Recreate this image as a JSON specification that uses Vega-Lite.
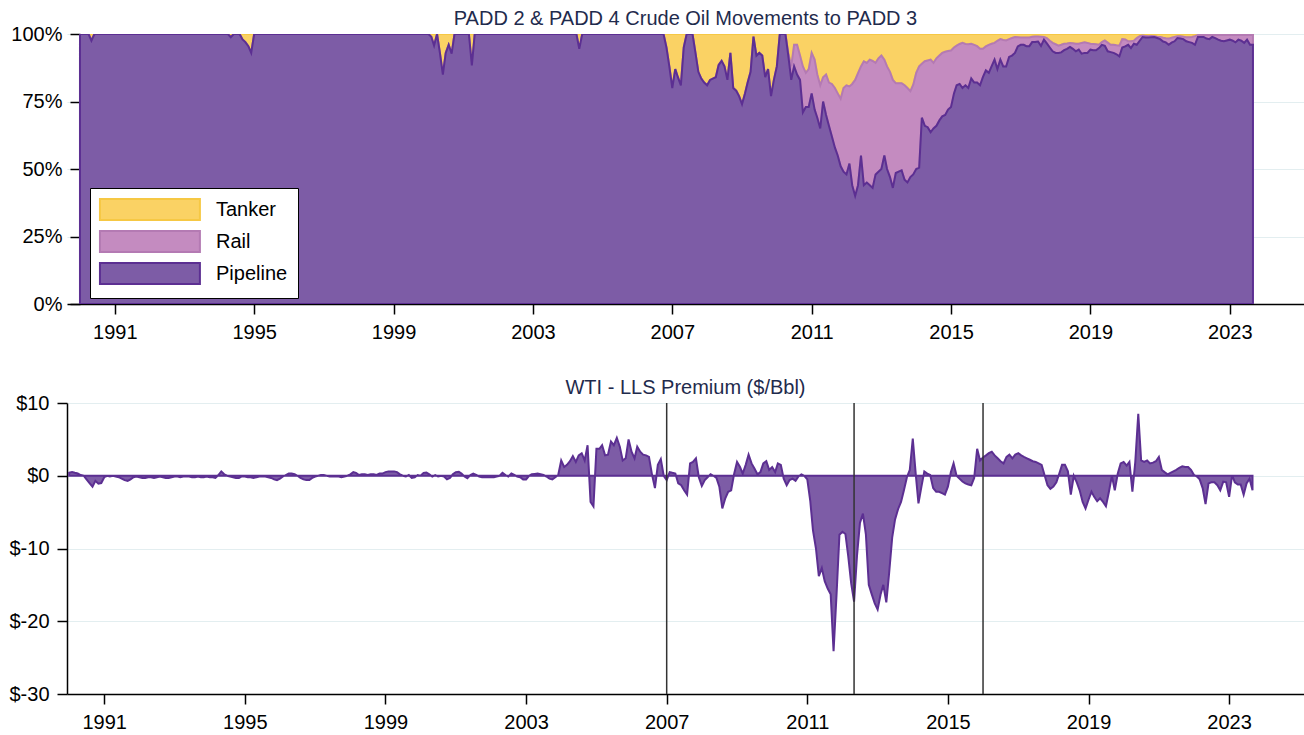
{
  "$schema": "https://vega.github.io/schema/vega-lite/v6.json",
  "padding": {"left": 7, "top": 9, "right": 0, "bottom": 0},
  "background": "white",
  "config": {
    "font": "Liberation Sans",
    "view": {"stroke": null},
    "axis": {"labelFont": "Liberation Sans", "labelFontSize": 20, "labelColor": "#000", "domainColor": "#000", "domainWidth": 1.5, "tickColor": "#000", "tickWidth": 1.5, "tickSize": 10, "labelPadding": 8, "gridColor": "#e3eef0", "gridWidth": 1.2, "title": null},
    "title": {"font": "Liberation Sans", "fontSize": 20, "fontWeight": "normal", "color": "#1f2b4d", "offset": -5},
    "concat": {"spacing": 36}
  },
  "vconcat": [
    {
      "title": "PADD 2 & PADD 4 Crude Oil Movements to PADD 3",
      "width": 1237,
      "height": 270,
      "data": {"values": [
        {"d":"1990-01","Pipeline":100,"Rail":0,"Tanker":0},
        {"d":"1990-04","Pipeline":100,"Rail":0,"Tanker":0},
        {"d":"1990-05","Pipeline":97.5,"Rail":0,"Tanker":2.5},
        {"d":"1990-06","Pipeline":100,"Rail":0,"Tanker":0},
        {"d":"1994-04","Pipeline":100,"Rail":0,"Tanker":0},
        {"d":"1994-05","Pipeline":98.8,"Rail":0,"Tanker":1.2},
        {"d":"1994-06","Pipeline":100,"Rail":0,"Tanker":0},
        {"d":"1994-08","Pipeline":100,"Rail":0,"Tanker":0},
        {"d":"1994-09","Pipeline":98,"Rail":0,"Tanker":2},
        {"d":"1994-10","Pipeline":97,"Rail":0,"Tanker":3},
        {"d":"1994-11","Pipeline":95.5,"Rail":0,"Tanker":4.5},
        {"d":"1994-12","Pipeline":93,"Rail":0,"Tanker":7},
        {"d":"1995-01","Pipeline":100,"Rail":0,"Tanker":0},
        {"d":"2000-01","Pipeline":100,"Rail":0,"Tanker":0},
        {"d":"2000-02","Pipeline":99,"Rail":0,"Tanker":1},
        {"d":"2000-03","Pipeline":95.7,"Rail":0,"Tanker":4.3},
        {"d":"2000-04","Pipeline":100,"Rail":0,"Tanker":0},
        {"d":"2000-05","Pipeline":93,"Rail":0,"Tanker":7},
        {"d":"2000-06","Pipeline":85,"Rail":0,"Tanker":15},
        {"d":"2000-07","Pipeline":93,"Rail":0,"Tanker":7},
        {"d":"2000-08","Pipeline":96,"Rail":0,"Tanker":4},
        {"d":"2000-09","Pipeline":92.7,"Rail":0,"Tanker":7.3},
        {"d":"2000-10","Pipeline":100,"Rail":0,"Tanker":0},
        {"d":"2001-03","Pipeline":100,"Rail":0,"Tanker":0},
        {"d":"2001-04","Pipeline":88.4,"Rail":0,"Tanker":11.6},
        {"d":"2001-05","Pipeline":100,"Rail":0,"Tanker":0},
        {"d":"2004-04","Pipeline":100,"Rail":0,"Tanker":0},
        {"d":"2004-05","Pipeline":94.5,"Rail":0,"Tanker":5.5},
        {"d":"2004-06","Pipeline":100,"Rail":0,"Tanker":0},
        {"d":"2006-10","Pipeline":100,"Rail":0,"Tanker":0},
        {"d":"2006-11","Pipeline":95,"Rail":0,"Tanker":5},
        {"d":"2006-12","Pipeline":88,"Rail":0,"Tanker":12},
        {"d":"2007-01","Pipeline":80,"Rail":0,"Tanker":20},
        {"d":"2007-02","Pipeline":87,"Rail":0,"Tanker":13},
        {"d":"2007-03","Pipeline":84,"Rail":0,"Tanker":16},
        {"d":"2007-04","Pipeline":81,"Rail":0,"Tanker":19},
        {"d":"2007-05","Pipeline":95,"Rail":0,"Tanker":5},
        {"d":"2007-06","Pipeline":100,"Rail":0,"Tanker":0},
        {"d":"2007-07","Pipeline":100,"Rail":0,"Tanker":0},
        {"d":"2007-08","Pipeline":100,"Rail":0,"Tanker":0},
        {"d":"2007-09","Pipeline":93,"Rail":0,"Tanker":7},
        {"d":"2007-10","Pipeline":86,"Rail":0,"Tanker":14},
        {"d":"2007-11","Pipeline":83.5,"Rail":0,"Tanker":16.5},
        {"d":"2007-12","Pipeline":82,"Rail":0,"Tanker":18},
        {"d":"2008-01","Pipeline":81,"Rail":0,"Tanker":19},
        {"d":"2008-02","Pipeline":83,"Rail":0,"Tanker":17},
        {"d":"2008-03","Pipeline":83.5,"Rail":0,"Tanker":16.5},
        {"d":"2008-04","Pipeline":84,"Rail":0,"Tanker":16},
        {"d":"2008-05","Pipeline":88.5,"Rail":0,"Tanker":11.5},
        {"d":"2008-06","Pipeline":90,"Rail":0,"Tanker":10},
        {"d":"2008-07","Pipeline":88,"Rail":0,"Tanker":12},
        {"d":"2008-08","Pipeline":83,"Rail":0,"Tanker":17},
        {"d":"2008-09","Pipeline":93,"Rail":0,"Tanker":7},
        {"d":"2008-10","Pipeline":80,"Rail":0,"Tanker":20},
        {"d":"2008-11","Pipeline":79,"Rail":0,"Tanker":21},
        {"d":"2008-12","Pipeline":77,"Rail":0,"Tanker":23},
        {"d":"2009-01","Pipeline":74,"Rail":0,"Tanker":26},
        {"d":"2009-02","Pipeline":78,"Rail":0,"Tanker":22},
        {"d":"2009-03","Pipeline":82,"Rail":0,"Tanker":18},
        {"d":"2009-04","Pipeline":86,"Rail":0,"Tanker":14},
        {"d":"2009-05","Pipeline":99,"Rail":0,"Tanker":1},
        {"d":"2009-06","Pipeline":92,"Rail":0,"Tanker":8},
        {"d":"2009-07","Pipeline":93,"Rail":0,"Tanker":7},
        {"d":"2009-08","Pipeline":92,"Rail":0,"Tanker":8},
        {"d":"2009-09","Pipeline":84,"Rail":0,"Tanker":16},
        {"d":"2009-10","Pipeline":87,"Rail":0,"Tanker":13},
        {"d":"2009-11","Pipeline":77,"Rail":0,"Tanker":23},
        {"d":"2009-12","Pipeline":83,"Rail":0,"Tanker":17},
        {"d":"2010-01","Pipeline":88,"Rail":0,"Tanker":12},
        {"d":"2010-02","Pipeline":100,"Rail":0,"Tanker":0},
        {"d":"2010-03","Pipeline":100,"Rail":0,"Tanker":0},
        {"d":"2010-04","Pipeline":100,"Rail":0,"Tanker":0},
        {"d":"2010-05","Pipeline":92,"Rail":1,"Tanker":7},
        {"d":"2010-06","Pipeline":83,"Rail":5,"Tanker":12},
        {"d":"2010-07","Pipeline":88,"Rail":8,"Tanker":4},
        {"d":"2010-08","Pipeline":85,"Rail":11,"Tanker":4},
        {"d":"2010-09","Pipeline":83,"Rail":9,"Tanker":8},
        {"d":"2010-10","Pipeline":71,"Rail":17,"Tanker":12},
        {"d":"2010-11","Pipeline":73,"Rail":12.6,"Tanker":14.4},
        {"d":"2010-12","Pipeline":73,"Rail":14,"Tanker":13},
        {"d":"2011-01","Pipeline":78,"Rail":15,"Tanker":7},
        {"d":"2011-02","Pipeline":72,"Rail":18.5,"Tanker":9.5},
        {"d":"2011-03","Pipeline":69,"Rail":16,"Tanker":15},
        {"d":"2011-04","Pipeline":65,"Rail":16,"Tanker":19},
        {"d":"2011-05","Pipeline":75,"Rail":9,"Tanker":16},
        {"d":"2011-06","Pipeline":70,"Rail":15,"Tanker":15},
        {"d":"2011-07","Pipeline":66,"Rail":16,"Tanker":18},
        {"d":"2011-08","Pipeline":62,"Rail":19.5,"Tanker":18.5},
        {"d":"2011-09","Pipeline":58,"Rail":22,"Tanker":20},
        {"d":"2011-10","Pipeline":55,"Rail":23,"Tanker":22},
        {"d":"2011-11","Pipeline":51,"Rail":25,"Tanker":24},
        {"d":"2011-12","Pipeline":49,"Rail":31,"Tanker":20},
        {"d":"2012-01","Pipeline":48,"Rail":33,"Tanker":19},
        {"d":"2012-02","Pipeline":52,"Rail":28.6,"Tanker":19.4},
        {"d":"2012-03","Pipeline":44,"Rail":37.5,"Tanker":18.5},
        {"d":"2012-04","Pipeline":40,"Rail":43,"Tanker":17},
        {"d":"2012-05","Pipeline":44,"Rail":41.5,"Tanker":14.5},
        {"d":"2012-06","Pipeline":55,"Rail":33,"Tanker":12},
        {"d":"2012-07","Pipeline":44,"Rail":45.9,"Tanker":10.1},
        {"d":"2012-08","Pipeline":45,"Rail":44.3,"Tanker":10.7},
        {"d":"2012-09","Pipeline":44,"Rail":46.5,"Tanker":9.5},
        {"d":"2012-10","Pipeline":43,"Rail":47,"Tanker":10},
        {"d":"2012-11","Pipeline":48,"Rail":41.3,"Tanker":10.7},
        {"d":"2012-12","Pipeline":49,"Rail":42,"Tanker":9},
        {"d":"2013-01","Pipeline":50,"Rail":42,"Tanker":8},
        {"d":"2013-02","Pipeline":55,"Rail":35.5,"Tanker":9.5},
        {"d":"2013-03","Pipeline":50,"Rail":38,"Tanker":12},
        {"d":"2013-04","Pipeline":47,"Rail":39,"Tanker":14},
        {"d":"2013-05","Pipeline":43,"Rail":40,"Tanker":17},
        {"d":"2013-06","Pipeline":48.5,"Rail":33.3,"Tanker":18.2},
        {"d":"2013-07","Pipeline":49,"Rail":32.8,"Tanker":18.2},
        {"d":"2013-08","Pipeline":49.5,"Rail":32.3,"Tanker":18.2},
        {"d":"2013-09","Pipeline":46,"Rail":35,"Tanker":19},
        {"d":"2013-10","Pipeline":45,"Rail":35,"Tanker":20},
        {"d":"2013-11","Pipeline":47,"Rail":31.8,"Tanker":21.2},
        {"d":"2013-12","Pipeline":48,"Rail":33.2,"Tanker":18.8},
        {"d":"2014-01","Pipeline":50,"Rail":35.6,"Tanker":14.4},
        {"d":"2014-02","Pipeline":50.5,"Rail":37.5,"Tanker":12},
        {"d":"2014-03","Pipeline":69,"Rail":20,"Tanker":11},
        {"d":"2014-04","Pipeline":66,"Rail":23.9,"Tanker":10.1},
        {"d":"2014-05","Pipeline":65.5,"Rail":24.7,"Tanker":9.8},
        {"d":"2014-06","Pipeline":63.6,"Rail":26.9,"Tanker":9.5},
        {"d":"2014-07","Pipeline":65,"Rail":24.3,"Tanker":10.7},
        {"d":"2014-08","Pipeline":66,"Rail":25,"Tanker":9},
        {"d":"2014-09","Pipeline":68,"Rail":24,"Tanker":8},
        {"d":"2014-10","Pipeline":69.5,"Rail":23.5,"Tanker":7},
        {"d":"2014-11","Pipeline":70,"Rail":23.4,"Tanker":6.6},
        {"d":"2014-12","Pipeline":72,"Rail":21.7,"Tanker":6.3},
        {"d":"2015-01","Pipeline":73,"Rail":20.9,"Tanker":6.1},
        {"d":"2015-02","Pipeline":78,"Rail":17,"Tanker":5},
        {"d":"2015-03","Pipeline":81,"Rail":14.7,"Tanker":4.3},
        {"d":"2015-04","Pipeline":81.5,"Rail":14.8,"Tanker":3.7},
        {"d":"2015-05","Pipeline":80,"Rail":16.7,"Tanker":3.3},
        {"d":"2015-06","Pipeline":81,"Rail":15.3,"Tanker":3.7},
        {"d":"2015-07","Pipeline":80,"Rail":16.2,"Tanker":3.8},
        {"d":"2015-08","Pipeline":83.5,"Rail":12.9,"Tanker":3.6},
        {"d":"2015-09","Pipeline":82,"Rail":14,"Tanker":4},
        {"d":"2015-10","Pipeline":82,"Rail":13.5,"Tanker":4.5},
        {"d":"2015-11","Pipeline":81,"Rail":13.5,"Tanker":5.5},
        {"d":"2015-12","Pipeline":84,"Rail":10.5,"Tanker":5.5},
        {"d":"2016-01","Pipeline":86.5,"Rail":8.9,"Tanker":4.6},
        {"d":"2016-02","Pipeline":85.6,"Rail":10.4,"Tanker":4},
        {"d":"2016-03","Pipeline":88,"Rail":8.4,"Tanker":3.6},
        {"d":"2016-04","Pipeline":90.5,"Rail":6.2,"Tanker":3.3},
        {"d":"2016-05","Pipeline":87,"Rail":10.5,"Tanker":2.5},
        {"d":"2016-06","Pipeline":90.5,"Rail":7.6,"Tanker":1.9},
        {"d":"2016-07","Pipeline":88,"Rail":9.8,"Tanker":2.2},
        {"d":"2016-08","Pipeline":88,"Rail":9.6,"Tanker":2.4},
        {"d":"2016-09","Pipeline":91.5,"Rail":6.6,"Tanker":1.9},
        {"d":"2016-10","Pipeline":92,"Rail":6.5,"Tanker":1.5},
        {"d":"2016-11","Pipeline":93,"Rail":5.9,"Tanker":1.1},
        {"d":"2016-12","Pipeline":95.4,"Rail":3.4,"Tanker":1.2},
        {"d":"2017-01","Pipeline":96,"Rail":2.7,"Tanker":1.3},
        {"d":"2017-02","Pipeline":96,"Rail":2.7,"Tanker":1.3},
        {"d":"2017-03","Pipeline":95.5,"Rail":3.2,"Tanker":1.3},
        {"d":"2017-04","Pipeline":95.5,"Rail":3.2,"Tanker":1.3},
        {"d":"2017-05","Pipeline":97,"Rail":2,"Tanker":1},
        {"d":"2017-06","Pipeline":97,"Rail":2.1,"Tanker":0.9},
        {"d":"2017-07","Pipeline":97.2,"Rail":1.9,"Tanker":0.9},
        {"d":"2017-08","Pipeline":95.6,"Rail":3.4,"Tanker":1},
        {"d":"2017-09","Pipeline":97.9,"Rail":1,"Tanker":1.1},
        {"d":"2017-10","Pipeline":96.5,"Rail":2,"Tanker":1.5},
        {"d":"2017-11","Pipeline":95,"Rail":2.5,"Tanker":2.5},
        {"d":"2017-12","Pipeline":93.6,"Rail":3.1,"Tanker":3.3},
        {"d":"2018-01","Pipeline":93,"Rail":3.2,"Tanker":3.8},
        {"d":"2018-02","Pipeline":93,"Rail":2.7,"Tanker":4.3},
        {"d":"2018-03","Pipeline":93.2,"Rail":2.8,"Tanker":4},
        {"d":"2018-04","Pipeline":94,"Rail":2.4,"Tanker":3.6},
        {"d":"2018-05","Pipeline":94.5,"Rail":2,"Tanker":3.5},
        {"d":"2018-06","Pipeline":95.2,"Rail":1.5,"Tanker":3.3},
        {"d":"2018-07","Pipeline":94.5,"Rail":2.1,"Tanker":3.4},
        {"d":"2018-08","Pipeline":93.6,"Rail":2.8,"Tanker":3.6},
        {"d":"2018-09","Pipeline":94.2,"Rail":2.2,"Tanker":3.6},
        {"d":"2018-10","Pipeline":92.7,"Rail":4,"Tanker":3.3},
        {"d":"2018-11","Pipeline":93,"Rail":3.9,"Tanker":3.1},
        {"d":"2018-12","Pipeline":93,"Rail":3.7,"Tanker":3.3},
        {"d":"2019-01","Pipeline":94.2,"Rail":2.2,"Tanker":3.6},
        {"d":"2019-02","Pipeline":94,"Rail":2.3,"Tanker":3.7},
        {"d":"2019-03","Pipeline":94,"Rail":2.2,"Tanker":3.8},
        {"d":"2019-04","Pipeline":94.8,"Rail":1.2,"Tanker":4},
        {"d":"2019-05","Pipeline":96,"Rail":1,"Tanker":3},
        {"d":"2019-06","Pipeline":95.6,"Rail":2,"Tanker":2.4},
        {"d":"2019-07","Pipeline":93.6,"Rail":3.2,"Tanker":3.2},
        {"d":"2019-08","Pipeline":93.3,"Rail":2.7,"Tanker":4},
        {"d":"2019-09","Pipeline":93,"Rail":3,"Tanker":4},
        {"d":"2019-10","Pipeline":92.5,"Rail":3.3,"Tanker":4.2},
        {"d":"2019-11","Pipeline":91.7,"Rail":4,"Tanker":4.3},
        {"d":"2019-12","Pipeline":95,"Rail":3.1,"Tanker":1.9},
        {"d":"2020-01","Pipeline":95.4,"Rail":2.6,"Tanker":2},
        {"d":"2020-02","Pipeline":96,"Rail":1.3,"Tanker":2.7},
        {"d":"2020-03","Pipeline":94.8,"Rail":2.5,"Tanker":2.7},
        {"d":"2020-04","Pipeline":96.4,"Rail":1.1,"Tanker":2.5},
        {"d":"2020-05","Pipeline":96,"Rail":2.5,"Tanker":1.5},
        {"d":"2020-06","Pipeline":97.5,"Rail":1.7,"Tanker":0.8},
        {"d":"2020-07","Pipeline":98.9,"Rail":0.5,"Tanker":0.6},
        {"d":"2020-08","Pipeline":98.7,"Rail":0.6,"Tanker":0.7},
        {"d":"2020-09","Pipeline":98.7,"Rail":0.5,"Tanker":0.8},
        {"d":"2020-10","Pipeline":98.8,"Rail":0.5,"Tanker":0.7},
        {"d":"2020-11","Pipeline":98.9,"Rail":0.3,"Tanker":0.8},
        {"d":"2020-12","Pipeline":98.5,"Rail":0.5,"Tanker":1},
        {"d":"2021-01","Pipeline":98.1,"Rail":0.8,"Tanker":1.1},
        {"d":"2021-02","Pipeline":97.2,"Rail":1.4,"Tanker":1.4},
        {"d":"2021-03","Pipeline":96.9,"Rail":1.5,"Tanker":1.6},
        {"d":"2021-04","Pipeline":96,"Rail":2.3,"Tanker":1.7},
        {"d":"2021-05","Pipeline":96.8,"Rail":1.8,"Tanker":1.4},
        {"d":"2021-06","Pipeline":97.3,"Rail":1.6,"Tanker":1.1},
        {"d":"2021-07","Pipeline":98.5,"Rail":0.7,"Tanker":0.8},
        {"d":"2021-08","Pipeline":98.3,"Rail":0.9,"Tanker":0.8},
        {"d":"2021-09","Pipeline":98.1,"Rail":0.9,"Tanker":1},
        {"d":"2021-10","Pipeline":97.3,"Rail":1.5,"Tanker":1.2},
        {"d":"2021-11","Pipeline":97,"Rail":1.8,"Tanker":1.2},
        {"d":"2021-12","Pipeline":96.7,"Rail":2.2,"Tanker":1.1},
        {"d":"2022-01","Pipeline":96,"Rail":3.2,"Tanker":0.8},
        {"d":"2022-02","Pipeline":98.9,"Rail":0.7,"Tanker":0.4},
        {"d":"2022-03","Pipeline":98.9,"Rail":0.7,"Tanker":0.4},
        {"d":"2022-04","Pipeline":98.9,"Rail":0.7,"Tanker":0.4},
        {"d":"2022-05","Pipeline":98.3,"Rail":1.3,"Tanker":0.4},
        {"d":"2022-06","Pipeline":98.1,"Rail":1.5,"Tanker":0.4},
        {"d":"2022-07","Pipeline":98.9,"Rail":0.7,"Tanker":0.4},
        {"d":"2022-08","Pipeline":98.5,"Rail":1.1,"Tanker":0.4},
        {"d":"2022-09","Pipeline":97.9,"Rail":1.7,"Tanker":0.4},
        {"d":"2022-10","Pipeline":97.5,"Rail":2.1,"Tanker":0.4},
        {"d":"2022-11","Pipeline":97.3,"Rail":2.3,"Tanker":0.4},
        {"d":"2022-12","Pipeline":97.6,"Rail":2,"Tanker":0.4},
        {"d":"2023-01","Pipeline":97.9,"Rail":1.7,"Tanker":0.4},
        {"d":"2023-02","Pipeline":97.5,"Rail":2.1,"Tanker":0.4},
        {"d":"2023-03","Pipeline":96.9,"Rail":2.7,"Tanker":0.4},
        {"d":"2023-04","Pipeline":97.9,"Rail":1.7,"Tanker":0.4},
        {"d":"2023-05","Pipeline":97.5,"Rail":2.1,"Tanker":0.4},
        {"d":"2023-06","Pipeline":96.7,"Rail":2.9,"Tanker":0.4},
        {"d":"2023-07","Pipeline":97.9,"Rail":1.7,"Tanker":0.4},
        {"d":"2023-08","Pipeline":96,"Rail":3.6,"Tanker":0.4},
        {"d":"2023-09","Pipeline":96,"Rail":3.6,"Tanker":0.4}
      ]},
      "transform": [{"fold": ["Tanker", "Rail", "Pipeline"], "as": ["mode", "share"]}],
      "mark": {"type": "area", "opacity": 1, "fillOpacity": 1, "strokeWidth": 2, "clip": true},
      "encoding": {
        "x": {"field": "d", "type": "temporal",
          "scale": {"type": "utc", "domain": [{"year": 1989, "month": 8, "date": 18, "utc": true}, {"year": 2025, "month": 2, "date": 17, "utc": true}]},
          "axis": {"format": "%Y", "grid": false, "values": [
            {"year": 1991, "utc": true}, {"year": 1995, "utc": true}, {"year": 1999, "utc": true}, {"year": 2003, "utc": true}, {"year": 2007, "utc": true}, {"year": 2011, "utc": true}, {"year": 2015, "utc": true}, {"year": 2019, "utc": true}, {"year": 2023, "utc": true}]}},
        "y": {"field": "share", "type": "quantitative", "stack": "zero",
          "scale": {"domain": [0, 100], "nice": false},
          "axis": {"values": [0, 25, 50, 75, 100], "labelExpr": "datum.value + '%'", "offset": -13, "grid": true, "minExtent": 60, "maxExtent": 60}},
        "fill": {"field": "mode", "type": "nominal",
          "scale": {"domain": ["Tanker", "Rail", "Pipeline"], "range": ["#fad264", "#c48bc0", "#7d5ca6"]},
          "legend": {"title": null, "orient": "none", "legendX": 23, "legendY": 154, "symbolType": "M-1.1,-1H8.42V1H-1.1Z", "symbolSize": 441, "symbolStrokeWidth": 2, "symbolOpacity": 1, "labelFontSize": 20, "labelFont": "Liberation Sans", "labelColor": "#000", "labelOffset": 93, "rowPadding": 3, "padding": 10, "fillColor": "white", "strokeColor": "#000"}},
        "stroke": {"field": "mode", "type": "nominal",
          "scale": {"domain": ["Tanker", "Rail", "Pipeline"], "range": ["#f6c844", "#b47ab3", "#5c2f92"]},
          "legend": {"title": null, "orient": "none", "legendX": 23, "legendY": 154, "symbolType": "M-1.1,-1H8.42V1H-1.1Z", "symbolSize": 441, "symbolStrokeWidth": 2, "symbolOpacity": 1, "labelFontSize": 20, "labelFont": "Liberation Sans", "labelColor": "#000", "labelOffset": 93, "rowPadding": 3, "padding": 10, "fillColor": "white", "strokeColor": "#000"}},
        "order": {"field": "mode", "sort": "ascending"}
      }
    },
    {
      "title": "WTI - LLS Premium ($/Bbl)",
      "width": 1237,
      "height": 291,
      "layer": [
        {
          "data": {"values": [
            {"d":"1990-01","v":0.4},{"d":"1990-02","v":0.5},{"d":"1990-03","v":0.4},{"d":"1990-04","v":0.3},{"d":"1990-05","v":0.1},{"d":"1990-06","v":0},{"d":"1990-07","v":-0.5},{"d":"1990-08","v":-1.0},{"d":"1990-09","v":-1.5},{"d":"1990-10","v":-0.7},{"d":"1990-11","v":-1.1},{"d":"1990-12","v":-1.0},
            {"d":"1991-01","v":-0.2},{"d":"1991-02","v":0},{"d":"1991-03","v":-0.1},{"d":"1991-04","v":0},{"d":"1991-05","v":-0.1},{"d":"1991-06","v":-0.2},{"d":"1991-07","v":-0.4},{"d":"1991-08","v":-0.6},{"d":"1991-09","v":-0.7},{"d":"1991-10","v":-0.5},{"d":"1991-11","v":-0.2},{"d":"1991-12","v":-0.1},
            {"d":"1992-01","v":-0.2},{"d":"1992-02","v":-0.3},{"d":"1992-03","v":-0.3},{"d":"1992-04","v":-0.2},{"d":"1992-05","v":-0.2},{"d":"1992-06","v":-0.3},{"d":"1992-07","v":-0.2},{"d":"1992-08","v":-0.1},{"d":"1992-09","v":-0.2},{"d":"1992-10","v":-0.3},{"d":"1992-11","v":-0.3},{"d":"1992-12","v":-0.2},
            {"d":"1993-01","v":-0.1},{"d":"1993-02","v":-0.1},{"d":"1993-03","v":-0.2},{"d":"1993-04","v":-0.1},{"d":"1993-05","v":-0.1},{"d":"1993-06","v":-0.1},{"d":"1993-07","v":-0.2},{"d":"1993-08","v":-0.2},{"d":"1993-09","v":-0.1},{"d":"1993-10","v":-0.2},{"d":"1993-11","v":-0.2},{"d":"1993-12","v":-0.1},
            {"d":"1994-01","v":-0.2},{"d":"1994-02","v":-0.2},{"d":"1994-03","v":-0.3},{"d":"1994-04","v":0.1},{"d":"1994-05","v":0.6},{"d":"1994-06","v":0.2},{"d":"1994-07","v":0},{"d":"1994-08","v":-0.1},{"d":"1994-09","v":-0.2},{"d":"1994-10","v":-0.3},{"d":"1994-11","v":-0.3},{"d":"1994-12","v":-0.1},
            {"d":"1995-01","v":-0.1},{"d":"1995-02","v":-0.2},{"d":"1995-03","v":-0.2},{"d":"1995-04","v":-0.3},{"d":"1995-05","v":-0.2},{"d":"1995-06","v":-0.1},{"d":"1995-07","v":-0.1},{"d":"1995-08","v":-0.1},{"d":"1995-09","v":-0.2},{"d":"1995-10","v":-0.3},{"d":"1995-11","v":-0.5},{"d":"1995-12","v":-0.6},
            {"d":"1996-01","v":-0.4},{"d":"1996-02","v":-0.1},{"d":"1996-03","v":0.1},{"d":"1996-04","v":0.3},{"d":"1996-05","v":0.3},{"d":"1996-06","v":0.2},{"d":"1996-07","v":0},{"d":"1996-08","v":-0.3},{"d":"1996-09","v":-0.5},{"d":"1996-10","v":-0.6},{"d":"1996-11","v":-0.6},{"d":"1996-12","v":-0.3},
            {"d":"1997-01","v":-0.1},{"d":"1997-02","v":0},{"d":"1997-03","v":0.1},{"d":"1997-04","v":0.1},{"d":"1997-05","v":0},{"d":"1997-06","v":-0.1},{"d":"1997-07","v":-0.1},{"d":"1997-08","v":-0.1},{"d":"1997-09","v":-0.1},{"d":"1997-10","v":-0.2},{"d":"1997-11","v":-0.1},{"d":"1997-12","v":0},
            {"d":"1998-01","v":0.2},{"d":"1998-02","v":0.5},{"d":"1998-03","v":0.4},{"d":"1998-04","v":0.1},{"d":"1998-05","v":0.2},{"d":"1998-06","v":0.2},{"d":"1998-07","v":0.1},{"d":"1998-08","v":0.2},{"d":"1998-09","v":0.2},{"d":"1998-10","v":0.1},{"d":"1998-11","v":0.3},{"d":"1998-12","v":0.3},
            {"d":"1999-01","v":0.5},{"d":"1999-02","v":0.6},{"d":"1999-03","v":0.6},{"d":"1999-04","v":0.6},{"d":"1999-05","v":0.5},{"d":"1999-06","v":0.2},{"d":"1999-07","v":0},{"d":"1999-08","v":-0.1},{"d":"1999-09","v":0.1},{"d":"1999-10","v":-0.3},{"d":"1999-11","v":-0.2},{"d":"1999-12","v":0.1},
            {"d":"2000-01","v":0},{"d":"2000-02","v":0.4},{"d":"2000-03","v":0.45},{"d":"2000-04","v":0.2},{"d":"2000-05","v":-0.1},{"d":"2000-06","v":0.1},{"d":"2000-07","v":-0.1},{"d":"2000-08","v":0},{"d":"2000-09","v":-0.1},{"d":"2000-10","v":-0.5},{"d":"2000-11","v":-0.3},{"d":"2000-12","v":0.2},
            {"d":"2001-01","v":0.5},{"d":"2001-02","v":0.55},{"d":"2001-03","v":0.3},{"d":"2001-04","v":-0.1},{"d":"2001-05","v":-0.35},{"d":"2001-06","v":0.1},{"d":"2001-07","v":0.3},{"d":"2001-08","v":0.1},{"d":"2001-09","v":-0.1},{"d":"2001-10","v":-0.2},{"d":"2001-11","v":-0.2},{"d":"2001-12","v":-0.2},
            {"d":"2002-01","v":-0.2},{"d":"2002-02","v":-0.2},{"d":"2002-03","v":-0.1},{"d":"2002-04","v":0},{"d":"2002-05","v":0.4},{"d":"2002-06","v":0.1},{"d":"2002-07","v":-0.1},{"d":"2002-08","v":0.3},{"d":"2002-09","v":0.1},{"d":"2002-10","v":-0.1},{"d":"2002-11","v":-0.2},{"d":"2002-12","v":-0.5},
            {"d":"2003-01","v":-0.5},{"d":"2003-02","v":0},{"d":"2003-03","v":0.2},{"d":"2003-04","v":0.25},{"d":"2003-05","v":0.3},{"d":"2003-06","v":0.2},{"d":"2003-07","v":0.1},{"d":"2003-08","v":-0.1},{"d":"2003-09","v":-0.4},{"d":"2003-10","v":-0.5},{"d":"2003-11","v":-0.2},{"d":"2003-12","v":0.1},
            {"d":"2004-01","v":2.1},{"d":"2004-02","v":1.2},{"d":"2004-03","v":1.5},{"d":"2004-04","v":2.0},{"d":"2004-05","v":2.7},{"d":"2004-06","v":1.9},{"d":"2004-07","v":2.8},{"d":"2004-08","v":3.1},{"d":"2004-09","v":2.1},{"d":"2004-10","v":4.2},{"d":"2004-11","v":-3.6},{"d":"2004-12","v":-4.2},
            {"d":"2005-01","v":3.7},{"d":"2005-02","v":3.7},{"d":"2005-03","v":4.2},{"d":"2005-04","v":2.8},{"d":"2005-05","v":2.9},{"d":"2005-06","v":4.7},{"d":"2005-07","v":4.2},{"d":"2005-08","v":5.2},{"d":"2005-09","v":4.0},{"d":"2005-10","v":2.1},{"d":"2005-11","v":2.4},{"d":"2005-12","v":5.0},
            {"d":"2006-01","v":3.3},{"d":"2006-02","v":2.4},{"d":"2006-03","v":4.0},{"d":"2006-04","v":3.3},{"d":"2006-05","v":2.9},{"d":"2006-06","v":2.8},{"d":"2006-07","v":2.6},{"d":"2006-08","v":0.2},{"d":"2006-09","v":-1.7},{"d":"2006-10","v":1.5},{"d":"2006-11","v":2.3},{"d":"2006-12","v":0},
            {"d":"2007-01","v":-0.6},{"d":"2007-02","v":0.5},{"d":"2007-03","v":0.4},{"d":"2007-04","v":0.3},{"d":"2007-05","v":-1.05},{"d":"2007-06","v":-1.3},{"d":"2007-07","v":-2.0},{"d":"2007-08","v":-2.6},{"d":"2007-09","v":1.7},{"d":"2007-10","v":1.9},{"d":"2007-11","v":2.4},{"d":"2007-12","v":-0.2},
            {"d":"2008-01","v":-1.4},{"d":"2008-02","v":-0.6},{"d":"2008-03","v":-0.2},{"d":"2008-04","v":0.2},{"d":"2008-05","v":0},{"d":"2008-06","v":-0.3},{"d":"2008-07","v":-1.5},{"d":"2008-08","v":-4.5},{"d":"2008-09","v":-3.1},{"d":"2008-10","v":-2.2},{"d":"2008-11","v":-2.0},{"d":"2008-12","v":0.2},
            {"d":"2009-01","v":1.9},{"d":"2009-02","v":1.2},{"d":"2009-03","v":0.3},{"d":"2009-04","v":1.5},{"d":"2009-05","v":2.9},{"d":"2009-06","v":1.7},{"d":"2009-07","v":1.0},{"d":"2009-08","v":0.2},{"d":"2009-09","v":0.5},{"d":"2009-10","v":1.7},{"d":"2009-11","v":2.0},{"d":"2009-12","v":0.8},
            {"d":"2010-01","v":1.2},{"d":"2010-02","v":0.5},{"d":"2010-03","v":1.7},{"d":"2010-04","v":1.5},{"d":"2010-05","v":-0.4},{"d":"2010-06","v":-1.3},{"d":"2010-07","v":-0.6},{"d":"2010-08","v":-0.4},{"d":"2010-09","v":-0.7},{"d":"2010-10","v":-0.1},{"d":"2010-11","v":0.2},{"d":"2010-12","v":0},
            {"d":"2011-01","v":-0.5},{"d":"2011-02","v":-3.5},{"d":"2011-03","v":-7.5},{"d":"2011-04","v":-10.0},{"d":"2011-05","v":-13.8},{"d":"2011-06","v":-12.7},{"d":"2011-07","v":-14.5},{"d":"2011-08","v":-15.5},{"d":"2011-09","v":-16.3},{"d":"2011-10","v":-24.1},{"d":"2011-11","v":-16.3},{"d":"2011-12","v":-8.1},
            {"d":"2012-01","v":-7.7},{"d":"2012-02","v":-8.0},{"d":"2012-03","v":-11},{"d":"2012-04","v":-14.8},{"d":"2012-05","v":-17.3},{"d":"2012-06","v":-10.9},{"d":"2012-07","v":-6.5},{"d":"2012-08","v":-5.2},{"d":"2012-09","v":-8.1},{"d":"2012-10","v":-15},{"d":"2012-11","v":-16.3},{"d":"2012-12","v":-17.5},
            {"d":"2013-01","v":-18.4},{"d":"2013-02","v":-16.3},{"d":"2013-03","v":-15},{"d":"2013-04","v":-17.4},{"d":"2013-05","v":-13.3},{"d":"2013-06","v":-8.5},{"d":"2013-07","v":-6.0},{"d":"2013-08","v":-4.6},{"d":"2013-09","v":-3.6},{"d":"2013-10","v":-2.0},{"d":"2013-11","v":-0.2},{"d":"2013-12","v":0.8},
            {"d":"2014-01","v":5.1},{"d":"2014-02","v":0.2},{"d":"2014-03","v":-3.8},{"d":"2014-04","v":-1.5},{"d":"2014-05","v":0.6},{"d":"2014-06","v":0.3},{"d":"2014-07","v":0.1},{"d":"2014-08","v":-1.7},{"d":"2014-09","v":-2.2},{"d":"2014-10","v":-2.2},{"d":"2014-11","v":-2.4},{"d":"2014-12","v":-2.6},
            {"d":"2015-01","v":-1.5},{"d":"2015-02","v":0.5},{"d":"2015-03","v":1.7},{"d":"2015-04","v":0},{"d":"2015-05","v":-0.4},{"d":"2015-06","v":-0.8},{"d":"2015-07","v":-1.05},{"d":"2015-08","v":-1.2},{"d":"2015-09","v":-1.3},{"d":"2015-10","v":-0.3},{"d":"2015-11","v":3.7},{"d":"2015-12","v":2.1},
            {"d":"2016-01","v":2.5},{"d":"2016-02","v":2.8},{"d":"2016-03","v":3.1},{"d":"2016-04","v":3.3},{"d":"2016-05","v":2.8},{"d":"2016-06","v":2.4},{"d":"2016-07","v":2.0},{"d":"2016-08","v":1.7},{"d":"2016-09","v":2.6},{"d":"2016-10","v":2.9},{"d":"2016-11","v":2.4},{"d":"2016-12","v":2.9},
            {"d":"2017-01","v":3.1},{"d":"2017-02","v":2.8},{"d":"2017-03","v":2.6},{"d":"2017-04","v":2.4},{"d":"2017-05","v":2.2},{"d":"2017-06","v":2.0},{"d":"2017-07","v":1.9},{"d":"2017-08","v":1.7},{"d":"2017-09","v":1.5},{"d":"2017-10","v":0.1},{"d":"2017-11","v":-1.3},{"d":"2017-12","v":-1.8},
            {"d":"2018-01","v":-1.5},{"d":"2018-02","v":-0.9},{"d":"2018-03","v":0.2},{"d":"2018-04","v":1.5},{"d":"2018-05","v":1.5},{"d":"2018-06","v":0.6},{"d":"2018-07","v":-2.6},{"d":"2018-08","v":0},{"d":"2018-09","v":-0.9},{"d":"2018-10","v":-2.0},{"d":"2018-11","v":-3.6},{"d":"2018-12","v":-4.5},
            {"d":"2019-01","v":-3.3},{"d":"2019-02","v":-2.2},{"d":"2019-03","v":-2.9},{"d":"2019-04","v":-3.5},{"d":"2019-05","v":-3.1},{"d":"2019-06","v":-3.6},{"d":"2019-07","v":-4.2},{"d":"2019-08","v":-2.2},{"d":"2019-09","v":0},{"d":"2019-10","v":-2.0},{"d":"2019-11","v":0.3},{"d":"2019-12","v":1.7},
            {"d":"2020-01","v":1.9},{"d":"2020-02","v":1.4},{"d":"2020-03","v":1.9},{"d":"2020-04","v":-2.2},{"d":"2020-05","v":1.9},{"d":"2020-06","v":8.5},{"d":"2020-07","v":2.1},{"d":"2020-08","v":1.9},{"d":"2020-09","v":2.1},{"d":"2020-10","v":1.7},{"d":"2020-11","v":1.8},{"d":"2020-12","v":2.0},
            {"d":"2021-01","v":2.6},{"d":"2021-02","v":0.8},{"d":"2021-03","v":0.5},{"d":"2021-04","v":0.2},{"d":"2021-05","v":0.4},{"d":"2021-06","v":0.6},{"d":"2021-07","v":0.8},{"d":"2021-08","v":1.1},{"d":"2021-09","v":1.3},{"d":"2021-10","v":1.2},{"d":"2021-11","v":1.2},{"d":"2021-12","v":0.8},
            {"d":"2022-01","v":0.1},{"d":"2022-02","v":-0.1},{"d":"2022-03","v":-0.5},{"d":"2022-04","v":-1.7},{"d":"2022-05","v":-3.9},{"d":"2022-06","v":-1.05},{"d":"2022-07","v":-0.9},{"d":"2022-08","v":-0.9},{"d":"2022-09","v":-1.3},{"d":"2022-10","v":-2.0},{"d":"2022-11","v":-0.8},{"d":"2022-12","v":-0.9},
            {"d":"2023-01","v":-2.9},{"d":"2023-02","v":0.1},{"d":"2023-03","v":-0.9},{"d":"2023-04","v":-1.2},{"d":"2023-05","v":-1.2},{"d":"2023-06","v":-2.6},{"d":"2023-07","v":-1.05},{"d":"2023-08","v":-0.4},{"d":"2023-09","v":-2.0}
          ]},
          "mark": {"type": "area", "fill": "#7d5ca6", "stroke": "#5c2f92", "strokeWidth": 2, "opacity": 1, "fillOpacity": 1},
          "encoding": {
            "x": {"field": "d", "type": "temporal",
              "scale": {"type": "utc", "domain": [{"year": 1989, "month": 12, "date": 10, "utc": true}, {"year": 2025, "month": 2, "date": 17, "utc": true}]},
              "axis": {"format": "%Y", "grid": false, "values": [
                {"year": 1991, "utc": true}, {"year": 1995, "utc": true}, {"year": 1999, "utc": true}, {"year": 2003, "utc": true}, {"year": 2007, "utc": true}, {"year": 2011, "utc": true}, {"year": 2015, "utc": true}, {"year": 2019, "utc": true}, {"year": 2023, "utc": true}]}},
            "y": {"field": "v", "type": "quantitative", "stack": null,
              "scale": {"domain": [-30, 10], "nice": false},
              "axis": {"values": [-30, -20, -10, 0, 10], "labelExpr": "'$' + datum.value", "grid": true, "minExtent": 60, "maxExtent": 60}}
          }
        },
        {
          "data": {"values": [{"d": "2007-01"}, {"d": "2012-05"}, {"d": "2016-01"}]},
          "mark": {"type": "rule", "color": "#333", "strokeWidth": 1.5},
          "encoding": {"x": {"field": "d", "type": "temporal"}}
        }
      ]
    }
  ]
}
